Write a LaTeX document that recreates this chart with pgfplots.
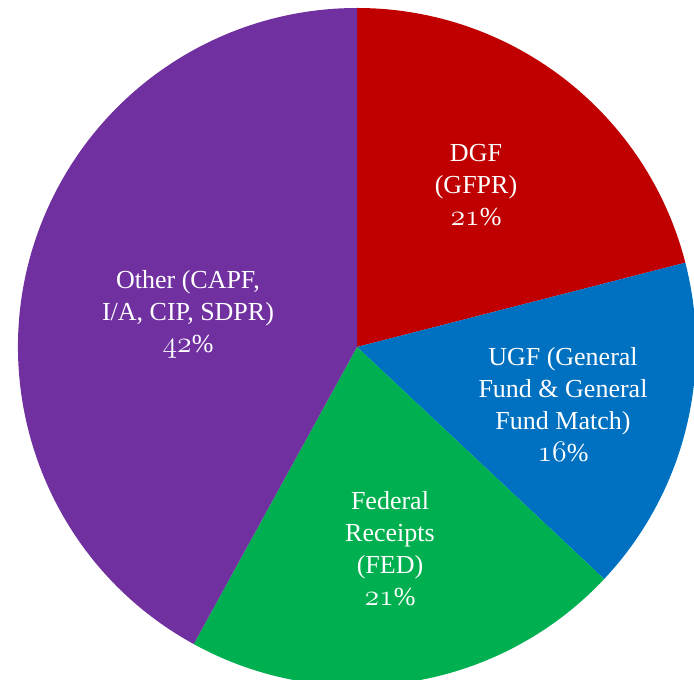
\documentclass[border=0pt]{standalone}
\usepackage{fontspec}
\setmainfont{Liberation Serif}
\usepackage{graphicx}
\usepackage{pgfplots}
\usepackage{pgfplotstable}
\pgfplotsset{compat=1.18}
\definecolor{cDGF}{HTML}{C00000}
\definecolor{cUGF}{HTML}{0070C0}
\definecolor{cFED}{HTML}{00B050}
\definecolor{cOTH}{HTML}{7030A0}
\pgfplotstableread{
value lx ly
21 476 495
16 563 275
21 390 131
42 188 366
}\piedata
\newcommand\osn[1]{\scalebox{1.2}{\usefont{OML}{cmm}{m}{it}#1}}
\newcommand\slicecolor[1]{\ifcase#1 cDGF\or cUGF\or cFED\or cOTH\fi}
\newcommand\slicelabel[1]{\ifcase#1 DGF\\(GFPR)\\\osn{21}\%\or UGF (General\\Fund \& General\\Fund Match)\\\osn{16}\%\or Federal\\Receipts\\(FED)\\\osn{21}\%\or Other (CAPF,\\I/A, CIP, SDPR)\\\osn{42}\%\fi}
\begin{document}
\begin{tikzpicture}
\useasboundingbox (0,0) rectangle (694pt,680pt);
\begin{axis}[hide axis, x=1pt, y=1pt, xmin=0, xmax=694, ymin=0, ymax=680,
  at={(0,0)}, anchor=south west, clip=true]
\pgfplotsextra{
  \xdef\cumangle{90}
  \foreach \i in {0,...,3} {
    \pgfplotstablegetelem{\i}{value}\of\piedata
    \pgfmathsetmacro\endangle{\cumangle-3.6*\pgfplotsretval}
    \edef\col{\slicecolor{\i}}
    \fill[color=\col] (axis cs:357,333) -- ++(\cumangle:339pt)
      arc[start angle=\cumangle, end angle=\endangle, radius=339pt] -- cycle;
    \xdef\cumangle{\endangle}
  }
  \foreach \i in {0,...,3} {
    \pgfplotstablegetelem{\i}{lx}\of\piedata \let\lx\pgfplotsretval
    \pgfplotstablegetelem{\i}{ly}\of\piedata \let\ly\pgfplotsretval
    \node[text=white, align=center, font=\fontsize{26}{32}\selectfont, inner sep=0pt]
      at (axis cs:\lx,\ly) {\slicelabel{\i}};
  }
}
\end{axis}
\end{tikzpicture}
\end{document}
